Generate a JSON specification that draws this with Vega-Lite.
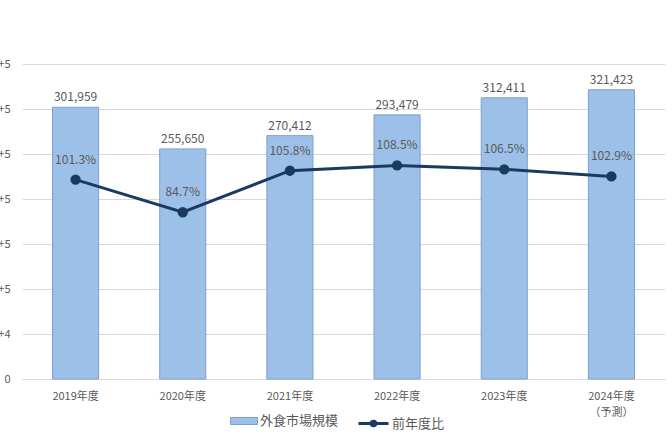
{
  "$schema": "https://vega.github.io/schema/vega-lite/v6.json",
  "autosize": "none",
  "width": 643,
  "height": 315,
  "padding": {"left": 22, "top": 64, "right": 7, "bottom": 67},
  "background": "white",
  "config": {
    "font": "Noto Sans CJK JP",
    "view": {"stroke": null}
  },
  "data": {
    "values": [
      {"year": "2019年度", "size": 301959, "ratio": 1.013},
      {"year": "2020年度", "size": 255650, "ratio": 0.847},
      {"year": "2021年度", "size": 270412, "ratio": 1.058},
      {"year": "2022年度", "size": 293479, "ratio": 1.085},
      {"year": "2023年度", "size": 312411, "ratio": 1.065},
      {"year": "2024年度\n（予測）", "size": 321423, "ratio": 1.029}
    ]
  },
  "encoding": {
    "x": {
      "field": "year",
      "type": "nominal",
      "sort": null,
      "title": null,
      "scale": {"paddingInner": 0.57, "paddingOuter": 0.285},
      "axis": {
        "labelAngle": 0,
        "labelExpr": "split(datum.value, '\\n')",
        "labelFontSize": 11,
        "labelColor": "#595959",
        "labelPadding": 11,
        "labelLineHeight": 16,
        "ticks": false,
        "domainColor": "#d9d9d9",
        "domainWidth": 1
      }
    }
  },
  "layer": [
    {
      "layer": [
        {
          "mark": {"type": "bar", "stroke": "#7f9fcc", "strokeWidth": 1},
          "encoding": {
            "y": {
              "field": "size",
              "type": "quantitative",
              "title": null,
              "scale": {"domain": [0, 350000], "nice": false},
              "axis": {
                "values": [0, 50000, 100000, 150000, 200000, 250000, 300000, 350000],
                "format": ",",
                "labelFontSize": 11,
                "labelColor": "#595959",
                "labelPadding": 12,
                "ticks": false,
                "domain": false,
                "gridColor": "#d9d9d9",
                "gridWidth": 1
              }
            },
            "fill": {
              "datum": "外食市場規模",
              "type": "nominal",
              "scale": {"range": ["#9dc0e8"]},
              "legend": {
                "orient": "none",
                "legendX": 208,
                "legendY": 343,
                "title": null,
                "symbolType": "M-1,-0.26H1V0.26H-1Z",
                "symbolSize": 729,
                "symbolStrokeColor": "#7f9fcc",
                "symbolStrokeWidth": 1,
                "labelFontSize": 13,
                "labelColor": "#595959",
                "labelOffset": 2
              }
            }
          }
        },
        {
          "mark": {"type": "text", "baseline": "bottom", "dy": -3, "fontSize": 12, "color": "#595959"},
          "encoding": {
            "y": {"field": "size", "type": "quantitative"},
            "text": {"field": "size", "type": "quantitative", "format": ","}
          }
        }
      ]
    },
    {
      "layer": [
        {
          "mark": {"type": "line", "strokeWidth": 3, "point": {"filled": true, "size": 70, "color": "#1c3a60"}},
          "encoding": {
            "y": {
              "field": "ratio",
              "type": "quantitative",
              "scale": {"domain": [0, 1.6], "nice": false},
              "axis": null
            },
            "stroke": {
              "datum": "前年度比",
              "type": "nominal",
              "scale": {"range": ["#1c3a60"]},
              "legend": {
                "orient": "none",
                "legendX": 335,
                "legendY": 343,
                "title": null,
                "symbolType": "M-1,0H1M0.15,0A0.15,0.15 0 1,1 -0.15,0A0.15,0.15 0 1,1 0.15,0Z",
                "symbolSize": 900,
                "symbolStrokeWidth": 3,
                "symbolFillColor": "#1c3a60",
                "labelFontSize": 13,
                "labelColor": "#595959",
                "labelOffset": 2
              }
            }
          }
        },
        {
          "mark": {"type": "text", "baseline": "middle", "dy": -20, "fontSize": 12, "color": "#595959"},
          "encoding": {
            "y": {"field": "ratio", "type": "quantitative"},
            "text": {"field": "ratio", "type": "quantitative", "format": ".1%"}
          }
        }
      ]
    }
  ],
  "resolve": {"scale": {"y": "independent"}}
}
